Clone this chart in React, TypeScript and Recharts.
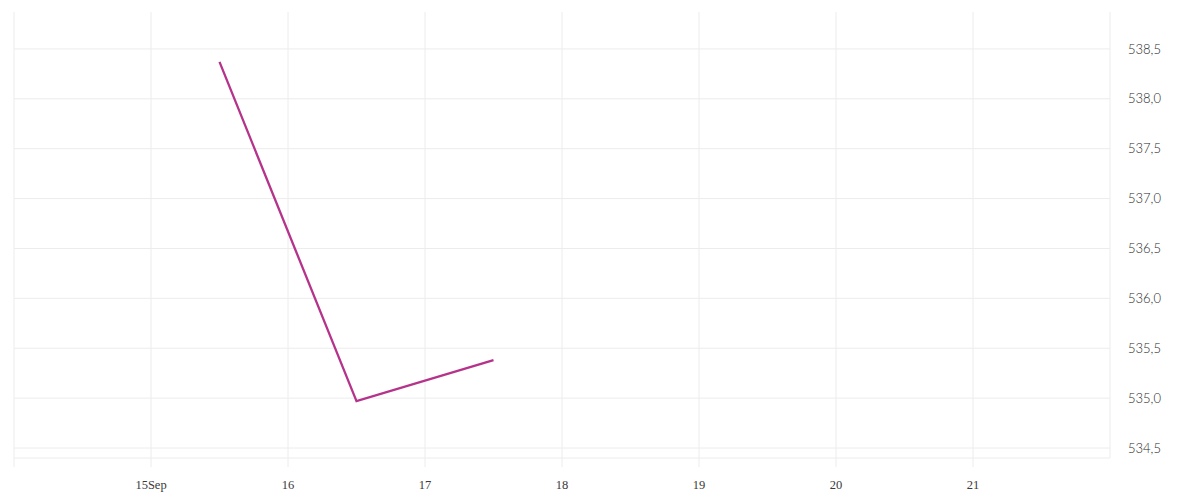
import { LineChart, Line, XAxis, YAxis, CartesianGrid } from 'recharts';

// day of September (noon = .5)
const days = [15.5, 16.5, 17.5];
const values = [538.37, 534.97, 535.38];

const xTicks = [14, 15, 16, 17, 18, 19, 20, 21];
const yTicks = [534.5, 535, 535.5, 536, 536.5, 537, 537.5, 538, 538.5];

const chartData = days.map((d, i) => ({ day: d, value: values[i] }));

const fmtX = (v: number) => (v === 14 ? '' : v === 15 ? '15Sep' : String(v));
const fmtY = (v: number) => v.toFixed(1).replace('.', ',');

export default function App() {
  return (
    <div style={{ width: 1184, height: 484 }}>
      <LineChart
        width={1184}
        height={484}
        data={chartData}
        margin={{ top: 4, right: 0, left: 6, bottom: 0 }}
      >
        <CartesianGrid stroke="#ececec" horizontalValues={yTicks} verticalValues={xTicks} />
        <XAxis
          dataKey="day"
          type="number"
          domain={[14, 22]}
          ticks={xTicks}
          tickFormatter={fmtX}
          axisLine={{ stroke: '#ececec' }}
          tickLine={{ stroke: '#ececec' }}
          tickSize={9}
          tickMargin={13}
          height={34}
          tick={{ fill: '#3a3a3a', fontSize: 12.5 }}
          interval={0}
        />
        <YAxis
          orientation="right"
          type="number"
          domain={[534.4, 538.87]}
          ticks={yTicks}
          tickFormatter={fmtY}
          axisLine={{ stroke: '#ececec' }}
          tickLine={false}
          tickSize={0}
          tickMargin={18}
          width={82}
          tick={{ fill: '#2a2a2a', fontSize: 13, fontFamily: 'Lato', fontWeight: 300, textAnchor: 'start' }}
          interval={0}
          allowDataOverflow
        />
        <Line
          type="linear"
          dataKey="value"
          stroke="#b5338a"
          strokeWidth={2.3}
          dot={false}
          isAnimationActive={false}
        />
      </LineChart>
    </div>
  );
}
